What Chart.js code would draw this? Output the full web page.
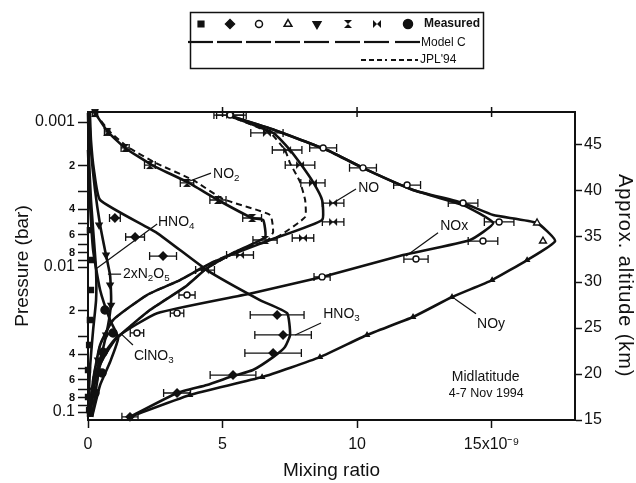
<!DOCTYPE html>
<html>
<head>
<meta charset="utf-8">
<script src="https://cdn.jsdelivr.net/npm/chart.js@4.4.0/dist/chart.umd.min.js"></script>
<style>
  html, body { margin: 0; padding: 0; background: #fff; }
</style>
</head>
<body>
<canvas id="chart" width="636" height="483"></canvas>
<script>
// mixing ratio in units of 1e-9, pressure in bar
const xTicks = [0, 5, 10, 15];
const altTicks = [15, 20, 25, 30, 35, 40, 45];
const pTicks = [0.001, 0.002, 0.003, 0.004, 0.005, 0.006, 0.007, 0.008, 0.009,
                0.01, 0.02, 0.03, 0.04, 0.05, 0.06, 0.07, 0.08, 0.09, 0.1];

// Model C profiles
const noyModelX = [5.17, 6.95, 8.88, 10.37, 12.08, 13.94, 15.06, 16.69, 17.36, 16.32, 15.02, 13.53, 12.08, 10.37, 8.62, 6.47, 3.79, 1.56];
const noyModelP = [0.000895, 0.00114, 0.00156, 0.00214, 0.00294, 0.00362, 0.00438, 0.00497, 0.00662, 0.00895, 0.0123, 0.0161, 0.0221, 0.0294, 0.0418, 0.0574, 0.0763, 0.108];
const noxModelX = [5.17, 6.95, 8.88, 10.37, 12.08, 13.94, 15.06, 14.20, 11.71, 8.70, 6.13, 2.57, 1.08, 0.45, 0.15, 0.04];
const noxModelP = [0.000895, 0.00114, 0.00156, 0.00214, 0.00294, 0.00374, 0.00497, 0.00651, 0.00826, 0.0117, 0.0151, 0.0208, 0.0304, 0.0438, 0.0705, 0.108];
const noModelX = [5.17, 6.88, 7.51, 7.88, 8.36, 8.70, 8.70, 6.77, 4.65, 3.42, 2.19, 0.93, 0.45, 0.19, 0.07];
const noModelP = [0.000895, 0.00119, 0.00156, 0.00192, 0.00259, 0.00345, 0.00474, 0.00651, 0.00924, 0.0123, 0.0156, 0.0232, 0.0345, 0.0601, 0.108];
const no2ModelX = [0.26, 0.74, 1.38, 2.38, 3.68, 4.83, 6.10, 6.51, 6.58, 5.46, 4.42, 3.61, 2.30, 1.00, 0.45, 0.15];
const no2ModelP = [0.000867, 0.00117, 0.00151, 0.00198, 0.00259, 0.00345, 0.00459, 0.00474, 0.00621, 0.00788, 0.0102, 0.0137, 0.0198, 0.0319, 0.0474, 0.108];
const hno3ModelX = [0.07, 0.11, 0.22, 0.45, 2.57, 4.42, 6.39, 7.40, 7.51, 7.32, 6.88, 6.13, 5.39, 4.42, 3.31, 1.56];
const hno3ModelP = [0.000867, 0.00133, 0.00214, 0.00345, 0.00583, 0.0105, 0.0169, 0.0208, 0.0294, 0.0356, 0.0418, 0.0513, 0.0565, 0.0651, 0.0739, 0.108];
const n2o5ModelX = [0.04, 0.11, 0.26, 0.45, 0.63, 0.82, 0.86, 0.78, 0.59, 0.30, 0.07];
const n2o5ModelP = [0.000867, 0.00156, 0.00294, 0.00513, 0.00763, 0.0114, 0.0169, 0.0232, 0.0345, 0.0556, 0.108];
const hno4ModelX = [0.0, 0.04, 0.11, 0.22, 0.30, 0.30, 0.19, 0.07, 0.0];
const hno4ModelP = [0.000867, 0.00183, 0.00345, 0.00651, 0.0105, 0.0169, 0.0272, 0.0513, 0.108];
const clno3ModelX = [0.0, 0.07, 0.19, 0.45, 0.82, 1.12, 0.82, 0.45, 0.15];
const clno3ModelP = [0.00156, 0.00345, 0.00763, 0.0144, 0.0232, 0.0309, 0.0452, 0.0651, 0.108];

// JPL'94 profiles
const noJplX = [5.17, 6.77, 7.32, 7.51, 7.88, 8.07, 8.07, 7.03, 5.65, 4.65, 3.42, 2.19, 0.93, 0.45, 0.19, 0.07];
const noJplP = [0.000895, 0.00119, 0.00156, 0.00192, 0.00259, 0.00345, 0.00452, 0.00621, 0.00763, 0.00924, 0.0123, 0.0156, 0.0232, 0.0345, 0.0601, 0.108];
const no2JplX = [0.26, 0.82, 1.49, 2.53, 3.90, 5.02, 6.77, 6.88, 6.69, 5.65, 4.42, 3.61, 2.30, 1.00, 0.45, 0.15];
const no2JplP = [0.000867, 0.00117, 0.00149, 0.00192, 0.00251, 0.0034, 0.00438, 0.00574, 0.00651, 0.00763, 0.0102, 0.0137, 0.0198, 0.0319, 0.0474, 0.108];

// measured
const hno3MeasX = [1.0, 1.75, 2.79, 7.03, 7.25, 6.88, 5.39, 3.31, 1.56];
const hno3MeasP = [0.00459, 0.00621, 0.0084, 0.0214, 0.0294, 0.0392, 0.0556, 0.0739, 0.108];
const hno3MeasErr = [0.2, 0.35, 0.5, 1.0, 1.05, 1.05, 0.85, 0.5, 0.3];
const noxMeasX = [5.28, 8.74, 10.22, 11.86, 13.94, 15.28, 14.68, 12.19, 8.70, 3.68, 3.31, 1.82];
const noxMeasP = [0.000895, 0.00151, 0.00207, 0.00272, 0.00362, 0.00489, 0.00662, 0.00881, 0.0117, 0.0156, 0.0208, 0.0285];
const noxMeasErr = [0.5, 0.5, 0.5, 0.5, 0.55, 0.55, 0.55, 0.45, 0.3, 0.3, 0.25, 0.25];
const noyMeasX = [16.69, 16.91, 16.32, 15.02, 13.53, 12.08, 10.37, 8.62, 6.47, 3.79];
const noyMeasP = [0.00497, 0.00662, 0.00895, 0.0123, 0.0161, 0.0221, 0.0294, 0.0418, 0.0574, 0.0763];
const noMeasX = [5.28, 6.65, 7.40, 7.88, 8.36, 9.11, 9.11, 7.99, 5.65, 4.35];
const noMeasP = [0.000895, 0.00119, 0.00156, 0.00198, 0.00263, 0.00362, 0.00489, 0.00631, 0.00826, 0.0105];
const noMeasErr = [0.6, 0.6, 0.55, 0.55, 0.45, 0.4, 0.4, 0.4, 0.5, 0.35];
const no2MeasX = [0.26, 0.71, 1.38, 2.30, 3.68, 4.83, 6.10, 6.58];
const no2MeasP = [0.000867, 0.00117, 0.00151, 0.00198, 0.00263, 0.00345, 0.00459, 0.00651];
const no2MeasErr = [0.1, 0.1, 0.15, 0.2, 0.25, 0.3, 0.35, 0.45];
const hno4MeasX = [0.07, 0.11, 0.11, 0.07, 0.04, 0.0, 0.0, 0.04];
const hno4MeasP = [0.00556, 0.00895, 0.0144, 0.0232, 0.0345, 0.0513, 0.0788, 0.0969];
const n2o5MeasX = [0.41, 0.67, 0.82, 0.86, 0.67, 0.37, 0.19];
const n2o5MeasP = [0.00513, 0.00826, 0.0133, 0.0183, 0.0294, 0.0438, 0.0705];
const clno3MeasX = [0.63, 0.93, 0.56, 0.52, 0.26];
const clno3MeasP = [0.0198, 0.0285, 0.0387, 0.0538, 0.0739];

const FONT = "'Liberation Sans', Arial, sans-serif";
const INK = '#111';

// little marker images for the two bow-tie symbols
function bowtie(vertical) {
  const c = document.createElement('canvas');
  c.width = 10; c.height = 10;
  const g = c.getContext('2d');
  g.fillStyle = INK;
  g.beginPath();
  if (vertical) { g.moveTo(1, 1); g.lineTo(9, 1); g.lineTo(1, 9); g.lineTo(9, 9); }
  else { g.moveTo(1, 1); g.lineTo(1, 9); g.lineTo(9, 1); g.lineTo(9, 9); }
  g.closePath();
  g.fill();
  return c;
}
const hourglass = bowtie(true);
const sidebow = bowtie(false);

const pts = (xs, ps) => xs.map((x, i) => ({ x: x, y: ps[i] }));

function model(xs, ps, dashed) {
  return {
    data: pts(xs, ps), showLine: true, borderColor: INK,
    borderWidth: dashed ? 2 : 2.6, borderDash: dashed ? [6, 4] : [],
    pointRadius: 0, tension: 0.15, order: 2, clip: false
  };
}
function measured(xs, ps, style, opts) {
  return Object.assign({
    data: pts(xs, ps), showLine: false, pointStyle: style, pointRadius: 4,
    pointBorderColor: INK, pointBackgroundColor: INK, pointBorderWidth: 1.4,
    order: 0, clip: false
  }, opts || {});
}

const datasets = [
  model(noyModelX, noyModelP),
  model(noxModelX, noxModelP),
  model(noModelX, noModelP),
  model(no2ModelX, no2ModelP),
  model(hno3ModelX, hno3ModelP),
  model(n2o5ModelX, n2o5ModelP),
  model(hno4ModelX, hno4ModelP),
  model(clno3ModelX, clno3ModelP),
  model(noJplX, noJplP, true),
  model(no2JplX, no2JplP, true),
  measured(hno4MeasX, hno4MeasP, 'rect', { pointRadius: 3.5 }),
  measured(hno3MeasX, hno3MeasP, 'rectRot', { err: hno3MeasErr }),
  measured(noxMeasX, noxMeasP, 'circle', { pointBackgroundColor: '#fff', pointRadius: 3, err: noxMeasErr }),
  measured(noyMeasX, noyMeasP, 'triangle', {
    pointBackgroundColor: c => c.dataIndex < 2 ? '#fff' : INK,
    pointRadius: c => c.dataIndex < 2 ? 4 : 2.5
  }),
  measured(n2o5MeasX, n2o5MeasP, 'triangle', { pointRotation: 180, pointRadius: 3.5 }),
  measured(no2MeasX, no2MeasP, hourglass, { pointRadius: 3.5, err: no2MeasErr }),
  measured(noMeasX, noMeasP, sidebow, { pointRadius: 4, err: noMeasErr }),
  measured(clno3MeasX, clno3MeasP, 'circle', { pointRadius: 4 })
];

const errorBars = {
  id: 'errorBars',
  beforeDatasetsDraw(chart) {
    const ctx = chart.ctx, xs = chart.scales.x, ys = chart.scales.y;
    ctx.save();
    ctx.strokeStyle = INK;
    ctx.lineWidth = 1.3;
    chart.data.datasets.forEach(ds => {
      if (!ds.err) return;
      ds.data.forEach((pt, i) => {
        const e = ds.err[i];
        const y = ys.getPixelForValue(pt.y);
        const x1 = xs.getPixelForValue(pt.x - e), x2 = xs.getPixelForValue(pt.x + e);
        ctx.beginPath();
        ctx.moveTo(x1, y); ctx.lineTo(x2, y);
        ctx.moveTo(x1, y - 4); ctx.lineTo(x1, y + 4);
        ctx.moveTo(x2, y - 4); ctx.lineTo(x2, y + 4);
        ctx.stroke();
      });
    });
    ctx.restore();
  }
};

function rich(ctx, x, y, parts, size, align) {
  let w = 0;
  parts.forEach(([t, sub]) => {
    ctx.font = (sub ? size * 0.7 : size) + 'px ' + FONT;
    w += ctx.measureText(t).width;
  });
  let cx = align === 'center' ? x - w / 2 : x;
  parts.forEach(([t, sub]) => {
    ctx.font = (sub ? size * 0.7 : size) + 'px ' + FONT;
    ctx.fillText(t, cx, y + (sub ? size * 0.32 : 0));
    cx += ctx.measureText(t).width;
  });
}

// species labels with leader lines, placed in data units
const notes = [
  { parts: [['NO', 0], ['2', 1]], x: 4.65, p: 0.00228, line: [3.68, 0.00259, 4.57, 0.00225] },
  { parts: [['NO', 0]], x: 10.04, p: 0.00285, line: [9.11, 0.00362, 9.96, 0.0029] },
  { parts: [['HNO', 0], ['4', 1]], x: 2.60, p: 0.00489, line: [0.33, 0.0102, 2.57, 0.00505] },
  { parts: [['2xN', 0], ['2', 1], ['O', 0], ['5', 1]], x: 1.30, p: 0.0112, line: [0.74, 0.0112, 1.23, 0.0112] },
  { parts: [['ClNO', 0], ['3', 1]], x: 1.71, p: 0.0411, line: [1.23, 0.0289, 1.67, 0.0345] },
  { parts: [['HNO', 0], ['3', 1]], x: 8.74, p: 0.0211, line: [8.66, 0.0243, 7.70, 0.0294] },
  { parts: [['NOx', 0]], x: 13.09, p: 0.00522, line: [13.01, 0.0058, 11.82, 0.0084] },
  { parts: [['NOy', 0]], x: 14.46, p: 0.0247, line: [14.42, 0.021, 13.64, 0.0166] }
];

const annotate = {
  id: 'annotate',
  afterDatasetsDraw(chart) {
    const ctx = chart.ctx, xs = chart.scales.x, ys = chart.scales.y;
    ctx.save();
    ctx.strokeStyle = INK;
    ctx.fillStyle = INK;
    ctx.lineWidth = 1.2;
    ctx.textBaseline = 'middle';
    notes.forEach(n => {
      const l = n.line;
      ctx.beginPath();
      ctx.moveTo(xs.getPixelForValue(l[0]), ys.getPixelForValue(l[1]));
      ctx.lineTo(xs.getPixelForValue(l[2]), ys.getPixelForValue(l[3]));
      ctx.stroke();
      rich(ctx, xs.getPixelForValue(n.x), ys.getPixelForValue(n.p), n.parts, 14, 'left');
    });
    rich(ctx, xs.getPixelForValue(14.78), ys.getPixelForValue(0.0574), [['Midlatitude', 0]], 14, 'center');
    rich(ctx, xs.getPixelForValue(14.8), ys.getPixelForValue(0.0751), [['4-7 Nov 1994', 0]], 12.5, 'center');
    ctx.restore();
  }
};

// top frame line with its tick marks, and the spaced-out altitude title
const frame = {
  id: 'frame',
  afterDraw(chart) {
    const ctx = chart.ctx, a = chart.chartArea, xs = chart.scales.x, alt = chart.scales.alt;
    ctx.save();
    ctx.strokeStyle = INK;
    ctx.lineWidth = 2;
    ctx.beginPath();
    ctx.moveTo(a.left, a.top);
    ctx.lineTo(a.right, a.top);
    ctx.stroke();
    ctx.lineWidth = 1.5;
    [5, 10, 15].forEach(v => {
      const x = xs.getPixelForValue(v);
      ctx.beginPath();
      ctx.moveTo(x, a.top - 5);
      ctx.lineTo(x, a.top + 5);
      ctx.stroke();
    });
    ctx.translate(alt.right - 11, alt.getPixelForValue(30.7));
    ctx.rotate(Math.PI / 2);
    ctx.fillStyle = INK;
    ctx.font = '20px ' + FONT;
    ctx.textAlign = 'center';
    ctx.textBaseline = 'middle';
    if ('letterSpacing' in ctx) ctx.letterSpacing = '0.9px';
    ctx.fillText('Approx. altitude (km)', 0, 0);
    ctx.restore();
  }
};

// boxed key at the top of the figure
const key = {
  id: 'key',
  afterDraw(chart) {
    const ctx = chart.ctx;
    const symX = [201, 230, 259, 288, 317, 348, 377, 408];
    const syms = [
      { pointStyle: 'rect', radius: 4 },
      { pointStyle: 'rectRot', radius: 4.5 },
      { pointStyle: 'circle', radius: 3.5, open: true },
      { pointStyle: 'triangle', radius: 4.5, open: true },
      { pointStyle: 'triangle', radius: 4.5, rotation: 180 },
      { pointStyle: hourglass, radius: 4.5 },
      { pointStyle: sidebow, radius: 4.5 },
      { pointStyle: 'circle', radius: 4.5 }
    ];
    ctx.save();
    ctx.strokeStyle = INK;
    ctx.lineWidth = 1.5;
    ctx.strokeRect(190.5, 12.5, 293, 56);
    syms.forEach((s, i) => {
      ctx.fillStyle = s.open ? '#fff' : INK;
      ctx.lineWidth = 1.5;
      Chart.helpers.drawPoint(ctx, { pointStyle: s.pointStyle, radius: s.radius, rotation: s.rotation || 0, borderWidth: 1.5 }, symX[i], 24);
    });
    ctx.lineWidth = 2.2;
    symX.forEach(x => {
      ctx.beginPath();
      ctx.moveTo(x - 13, 42);
      ctx.lineTo(x + 12, 42);
      ctx.stroke();
    });
    ctx.lineWidth = 2;
    ctx.setLineDash([5, 3]);
    [[361, 387], [391, 418]].forEach(([a, b]) => {
      ctx.beginPath();
      ctx.moveTo(a, 60);
      ctx.lineTo(b, 60);
      ctx.stroke();
    });
    ctx.setLineDash([]);
    ctx.fillStyle = INK;
    ctx.textBaseline = 'middle';
    ctx.font = 'bold 12px ' + FONT;
    ctx.fillText('Measured', 424, 24);
    ctx.font = '12px ' + FONT;
    ctx.fillText('Model C', 421, 43);
    ctx.fillText("JPL'94", 420, 60);
    ctx.restore();
  }
};

function isDecade(v) {
  const e = Math.floor(Math.log10(v) + 1e-9);
  return Math.round(v / Math.pow(10, e)) === 1;
}

new Chart(document.getElementById('chart').getContext('2d'), {
  type: 'scatter',
  data: { datasets: datasets },
  options: {
    responsive: false,
    devicePixelRatio: 1,
    animation: false,
    layout: { padding: { top: 112, left: 0, right: 0, bottom: 0 } },
    plugins: { legend: { display: false }, tooltip: { enabled: false } },
    scales: {
      x: {
        type: 'linear', position: 'bottom', min: 0, max: 18.1,
        afterBuildTicks: s => { s.ticks = xTicks.map(v => ({ value: v })); },
        afterFit: s => { s.height = 63; },
        grid: { drawOnChartArea: false, tickLength: 8, color: INK, tickWidth: 1.5 },
        border: { color: INK, width: 2 },
        ticks: {
          padding: 7, color: INK, font: { family: FONT, size: 16 },
          callback: v => v === 15 ? '15x10\u207B\u2079' : String(v)
        },
        title: { display: true, text: 'Mixing ratio', color: INK, font: { family: FONT, size: 19 }, padding: { top: 0, bottom: 1 } }
      },
      y: {
        type: 'logarithmic', position: 'left', reverse: true, min: 0.000853, max: 0.1135,
        afterBuildTicks: s => { s.ticks = pTicks.map(v => ({ value: v })); },
        afterFit: s => { s.width = 88; },
        grid: { drawOnChartArea: false, tickLength: 10, color: INK, tickWidth: 1.5 },
        border: { color: INK, width: 2 },
        ticks: {
          autoSkip: false, padding: 3, color: INK,
          font: c => isDecade(c.tick.value) ? { family: FONT, size: 16 } : { family: FONT, size: 11, weight: 'bold' },
          callback: v => {
            const e = Math.floor(Math.log10(v) + 1e-9);
            const m = Math.round(v / Math.pow(10, e));
            if (m === 1) return v.toFixed(-e);
            return m % 2 === 0 ? String(m) : '';
          }
        },
        title: { display: true, text: 'Pressure (bar)', color: INK, font: { family: FONT, size: 19 }, padding: { top: 11, bottom: 0 } }
      },
      alt: {
        type: 'linear', position: 'right', min: 15, max: 48.5,
        afterBuildTicks: s => { s.ticks = altTicks.map(v => ({ value: v })); },
        afterFit: s => { s.width = 61; },
        grid: { drawOnChartArea: false, tickLength: 7, color: INK, tickWidth: 1.5 },
        border: { color: INK, width: 2 },
        ticks: { padding: 2, color: INK, font: { family: FONT, size: 16 } },
        title: { display: false }
      }
    }
  },
  plugins: [errorBars, annotate, frame, key]
});
</script>
</body>
</html>
